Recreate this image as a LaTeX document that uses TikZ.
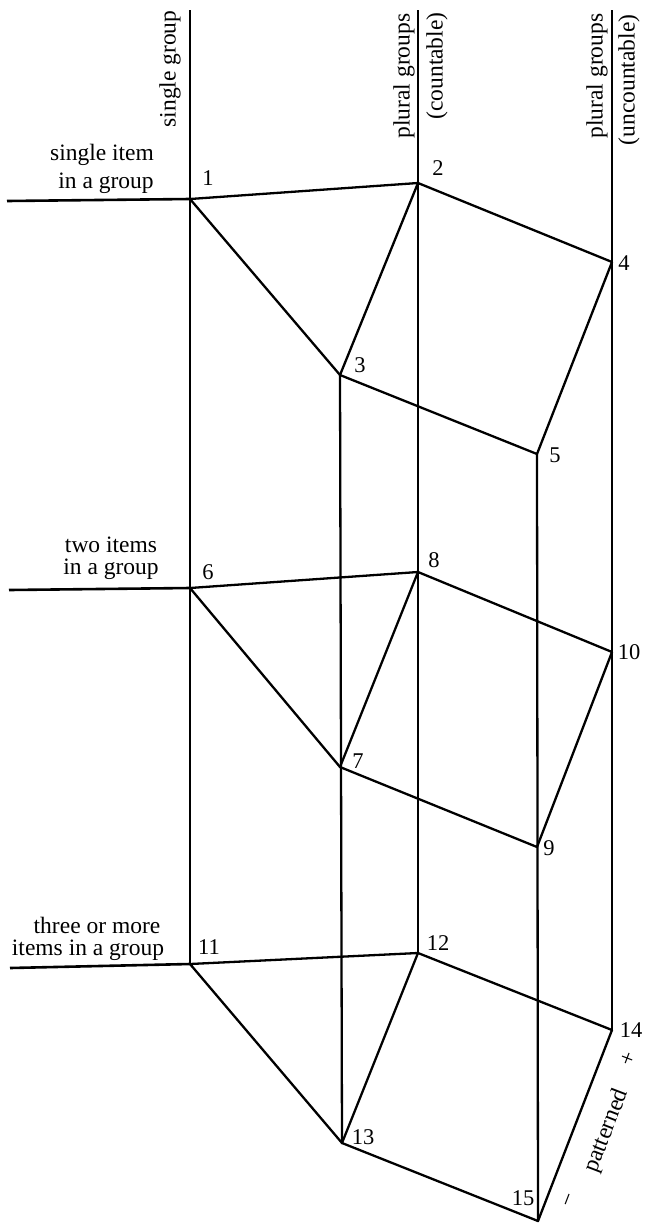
\documentclass[tikz,border=0pt]{standalone}
\usepackage{fontspec}
\setmainfont{Liberation Serif}
\begin{document}
\begin{tikzpicture}[x=1pt,y=-1pt,
  axisline/.style={line width=1.5pt},
  edge/.style={line width=2.3pt, line join=round, line cap=round},
  lead/.style={line width=2.6pt},
  txt/.style={font=\fontsize{23.5}{27}\selectfont, inner sep=0pt},
  num/.style={font=\fontsize{22.5}{26}\selectfont, inner sep=0pt}]
\useasboundingbox (0,0) rectangle (647,1224);
% axis tops
\coordinate (t1) at (190,10);
\coordinate (t2) at (418,10);
\coordinate (t3) at (612,10);
% lead line ends
\coordinate (l1) at (7,201);
\coordinate (l6) at (9,590);
\coordinate (l11) at (10,968);
% vertices
\coordinate (p1) at (190,199);
\coordinate (p2) at (418,183);
\coordinate (p3) at (340,375);
\coordinate (p4) at (612,262);
\coordinate (p5) at (537,454);
\coordinate (p6) at (190,588);
\coordinate (p7) at (340,767);
\coordinate (p8) at (418,572);
\coordinate (p9) at (537,847);
\coordinate (p10) at (612,652);
\coordinate (p11) at (190,964);
\coordinate (p12) at (418,953);
\coordinate (p13) at (342,1143);
\coordinate (p14) at (612,1030);
\coordinate (p15) at (538,1221);
% axes
\draw[axisline] (t1) -- (p11);
\draw[axisline] (t2) -- (p12);
\draw[axisline] (t3) -- (p14);
% lead lines
\draw[lead] (l1) -- (p1);
\draw[lead] (l6) -- (p6);
\draw[lead] (l11) -- (p11);
% block 1
\draw[edge] (p1) -- (p2) -- (p4) -- (p5) -- (p3) -- (p1);
\draw[edge] (p2) -- (p3);
% block 2
\draw[edge] (p6) -- (p8) -- (p10) -- (p9) -- (p7) -- (p6);
\draw[edge] (p8) -- (p7);
% block 3
\draw[edge] (p11) -- (p12) -- (p14) -- (p15) -- (p13) -- (p11);
\draw[edge] (p12) -- (p13);
% depth verticals
\draw[edge] (p3) -- (p13);
\draw[edge] (p5) -- (p15);
% column headings
\node[txt, rotate=90] (hsg) at (170,69) {single group};
\node[txt, rotate=90] (hpc) at (404,76) {plural groups};
\node[txt, rotate=90] (hc) at (437,66) {(countable)};
\node[txt, rotate=90] (hpu) at (597,76) {plural groups};
\node[txt, rotate=90] (hu) at (629,80) {(uncountable)};
% row headings
\node[txt] (r1a) at (102,155) {single item};
\node[txt] (r1b) at (106,183) {in a group};
\node[txt] (r2a) at (111,545) {two items};
\node[txt] (r2b) at (111,569) {in a group};
\node[txt] (r3a) at (97,925) {three or more};
\node[txt] (r3b) at (88,950) {items in a group};
% numbers
\node[num] (n1) at (208,178) {1};
\node[num] (n2) at (438,168) {2};
\node[num] (n3) at (360,365) {3};
\node[num] (n4) at (624,263) {4};
\node[num] (n5) at (555,455) {5};
\node[num] (n6) at (208,572) {6};
\node[num] (n7) at (358,761) {7};
\node[num] (n8) at (434,560) {8};
\node[num] (n9) at (549,848) {9};
\node[num] (n10) at (629,652) {10};
\node[num] (n11) at (209,947) {11};
\node[num] (n12) at (438,943) {12};
\node[num] (n13) at (363,1137) {13};
\node[num] (n14) at (631,1030) {14};
\node[num] (n15) at (523,1198) {15};
% patterned axis
\node[txt, rotate=69] (pat) at (607,1131) {patterned};
\node[txt, rotate=69] (plus) at (629,1059) {+};
\node[txt, rotate=69] (minus) at (571,1201) {−};
\end{tikzpicture}
\end{document}
